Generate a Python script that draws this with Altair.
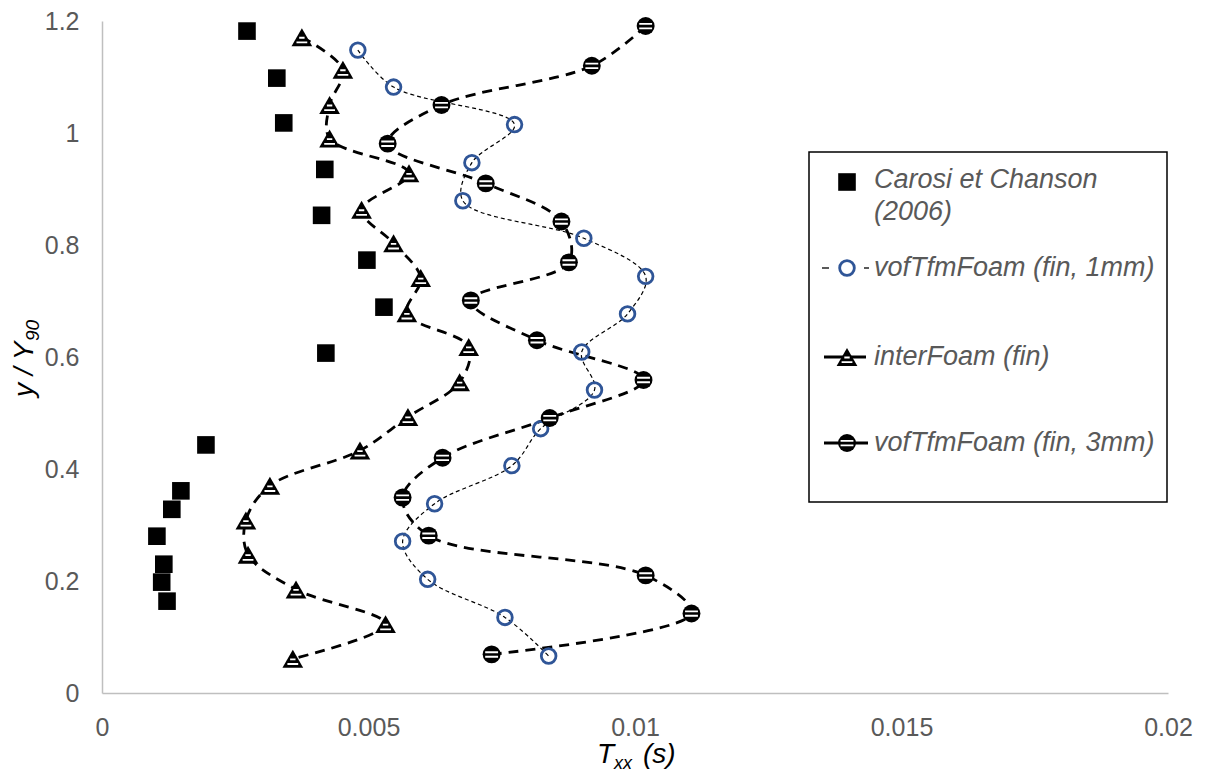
import altair as alt
import pandas as pd

# ---------------- data ----------------
carosi_x = [0.00272, 0.00328, 0.00341, 0.00418, 0.00412, 0.00497, 0.00529, 0.00420,
            0.00195, 0.00148, 0.00131, 0.00103, 0.00116, 0.00112, 0.00122]
carosi_y = [1.182, 1.098, 1.018, 0.935, 0.853, 0.773, 0.689, 0.607,
            0.443, 0.361, 0.328, 0.280, 0.230, 0.198, 0.164]

inter_x = [0.00375, 0.00452, 0.00427, 0.00427, 0.00576, 0.00487, 0.00547, 0.00598,
           0.00572, 0.00688, 0.00671, 0.00574, 0.00484, 0.00315, 0.00270, 0.00274,
           0.00364, 0.00532, 0.00358]
inter_y = [1.171, 1.113, 1.050, 0.990, 0.928, 0.863, 0.803, 0.741,
           0.678, 0.618, 0.555, 0.493, 0.433, 0.370, 0.308, 0.247,
           0.185, 0.123, 0.061]

v1_x = [0.00480, 0.00547, 0.00774, 0.00694, 0.00677, 0.00904, 0.01020, 0.00986,
        0.00900, 0.00924, 0.00823, 0.00769, 0.00624, 0.00564, 0.00611, 0.00756, 0.00838]
v1_y = [1.148, 1.082, 1.015, 0.947, 0.879, 0.812, 0.744, 0.677,
        0.609, 0.541, 0.472, 0.406, 0.338, 0.271, 0.203, 0.135, 0.066]

v3_x = [0.01020, 0.00919, 0.00637, 0.00536, 0.00720, 0.00862, 0.00876, 0.00692,
        0.00816, 0.01016, 0.00840, 0.00639, 0.00564, 0.00613, 0.01020, 0.01106, 0.00731]
v3_y = [1.191, 1.120, 1.050, 0.981, 0.910, 0.842, 0.769, 0.701,
        0.630, 0.559, 0.491, 0.420, 0.349, 0.281, 0.210, 0.142, 0.069]

x_ticks = [0, 0.005, 0.01, 0.015, 0.02]
y_ticks = [0, 0.2, 0.4, 0.6, 0.8, 1.0, 1.2]

legend_labels = ["Carosi et Chanson", "(2006)", "vofTfmFoam (fin, 1mm)",
                 "interFoam (fin)", "vofTfmFoam (fin, 3mm)"]

# ---------------- styling ----------------
FONT = "Liberation Sans"
GREY = "#595959"
BLUE = "#2F5597"
AXIS_GREY = "#BFBFBF"

CIRCLE_STRIPES = "M-0.72,-0.24L0.72,-0.24M-0.72,0.26L0.72,0.26"
TRI_STRIPES = "M-0.26,0.05L0.26,0.05M-0.52,0.5L0.52,0.5"

SQ_SIZE = 310
TRI_SIZE = 430
C3_SIZE = 320
C1_SIZE = 215

TOP = 13            # plot area top offset inside the chart
H = 672             # plot area height


def frame(xs, ys):
    return pd.DataFrame({"x": xs, "y": ys, "i": list(range(len(xs)))})


d_car = frame(carosi_x, carosi_y)
d_int = frame(inter_x, inter_y)
d_v1 = frame(v1_x, v1_y)
d_v3 = frame(v3_x, v3_y)
dummy = pd.DataFrame({"d": [0]})

xsc = alt.Scale(domain=[0, 0.02], nice=False, zero=False)
ysc = alt.Scale(domain=[0, 1.2], nice=False, zero=False)

xax = alt.Axis(values=x_ticks, format="~g", title=None, grid=False, ticks=False,
               tickSize=0, labelPadding=22, labelFontSize=25, labelColor=GREY,
               labelFont=FONT, domainColor=AXIS_GREY, domainWidth=1.5,
               labelFlush=False, labelOverlap=False)
yax = alt.Axis(values=y_ticks, format="~g", title=None, grid=False, ticks=False,
               tickSize=0, labelPadding=23, labelFontSize=25, labelColor=GREY,
               labelFont=FONT, domainColor=AXIS_GREY, domainWidth=1.5,
               labelFlush=False, labelOverlap=False)


def enc(ch):
    return ch.encode(x=alt.X("x:Q", scale=xsc, axis=xax),
                     y=alt.Y("y:Q", scale=ysc, axis=yax))


def line(d, width, dash):
    return alt.Chart(d).mark_line(interpolate="catmull-rom", strokeWidth=width,
                                  strokeDash=dash, color="black").encode(
        x=alt.X("x:Q", scale=xsc, axis=xax),
        y=alt.Y("y:Q", scale=ysc, axis=yax),
        order="i:Q")


def pt(d, **kw):
    return enc(alt.Chart(d).mark_point(opacity=1, **kw))


layers = [
    # lines
    line(d_v1, 1.2, [4, 3]),
    line(d_int, 2.8, [10, 7]),
    line(d_v3, 2.8, [10, 7]),
    # markers
    pt(d_car, shape="square", size=SQ_SIZE, filled=True, color="black"),
    pt(d_v1, shape="circle", size=C1_SIZE, filled=False, color=BLUE, strokeWidth=2.8),
    pt(d_int, shape="triangle-up", size=TRI_SIZE, filled=True, color="black"),
    pt(d_int, shape=TRI_STRIPES, size=TRI_SIZE, filled=False, color="white", strokeWidth=1.8),
    pt(d_v3, shape="circle", size=C3_SIZE, filled=True, color="black"),
    pt(d_v3, shape=CIRCLE_STRIPES, size=C3_SIZE, filled=False, color="white", strokeWidth=1.9),
]


# ---------------- legend (pixel positions inside the plot area) ----------------
def sym(x, y, **kw):
    return alt.Chart(dummy).mark_point(opacity=1, **kw).encode(
        x=alt.value(x), y=alt.value(y))


def rule(x1, x2, y, width, color="black"):
    return alt.Chart(dummy).mark_rule(strokeWidth=width, color=color).encode(
        x=alt.value(x1), x2=alt.value(x2), y=alt.value(y))


def txt(s, x, y, size=27, color=GREY, style="italic", align="left",
        baseline="middle", angle=None):
    kw = dict(text=s, font=FONT, fontSize=size, color=color, fontStyle=style,
              align=align, baseline=baseline)
    if angle is not None:
        kw["angle"] = angle
    return alt.Chart(dummy).mark_text(**kw).encode(x=alt.value(x), y=alt.value(y))


LX = 745   # symbol centre
TX = 772   # text start
dy = 11 - TOP
ly = [163 + dy, 249 + dy, 338 + dy, 424 + dy]

legend = [
    alt.Chart(dummy).mark_rect(fill="white", stroke="black", strokeWidth=1.5).encode(
        x=alt.value(707), x2=alt.value(1065), y=alt.value(133 + dy), y2=alt.value(483 + dy)),
    sym(LX, ly[0], shape="square", size=SQ_SIZE, filled=True, color="black"),
    txt(legend_labels[0], TX, ly[0] - 2),
    txt(legend_labels[1], TX, ly[0] + 30),
    rule(720, 727, ly[1], 1.3),
    rule(762, 767, ly[1], 1.3),
    sym(LX, ly[1], shape="circle", size=C1_SIZE, filled=False, color=BLUE, strokeWidth=2.8),
    txt(legend_labels[2], TX, ly[1]),
    rule(722, 764, ly[2], 2.8),
    sym(LX, ly[2], shape="triangle-up", size=TRI_SIZE, filled=True, color="black"),
    sym(LX, ly[2], shape=TRI_STRIPES, size=TRI_SIZE, filled=False, color="white", strokeWidth=1.8),
    txt(legend_labels[3], TX, ly[2]),
    rule(722, 766, ly[3], 2.8),
    sym(LX, ly[3], shape="circle", size=C3_SIZE, filled=True, color="black"),
    sym(LX, ly[3], shape=CIRCLE_STRIPES, size=C3_SIZE, filled=False, color="white", strokeWidth=1.9),
    txt(legend_labels[4], TX, ly[3]),
]

# ---------------- axis titles ----------------
titles = [
    txt("T", 495, 744 + dy, size=28, color="black", baseline="alphabetic"),
    txt("xx", 512, 750 + dy, size=18, color="black", baseline="alphabetic"),
    txt("(s)", 541, 744 + dy, size=28, color="black", baseline="alphabetic"),
    txt("y / Y", -69, 378 + dy, size=28, color="black", baseline="alphabetic", angle=270),
    txt("90", -63, 322 + dy, size=19, color="black", baseline="alphabetic", angle=270),
]

chart = alt.layer(*layers, *legend, *titles).properties(
    width=1066, height=H, autosize="none",
    padding={"left": 94, "top": TOP, "right": 30, "bottom": 767 - TOP - H},
    background="white",
).configure_view(stroke=None)

chart.save("out.html", embed_options={"renderer": "svg", "actions": False})
